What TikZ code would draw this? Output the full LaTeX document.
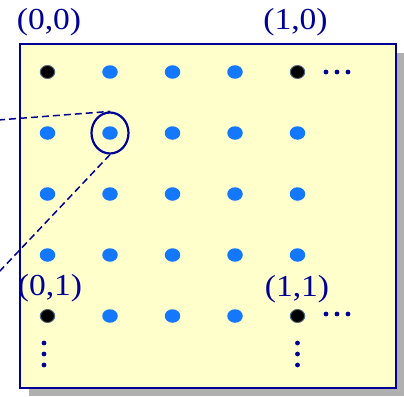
\documentclass[tikz,border=0pt]{standalone}
\usepackage{fontspec}
\setmainfont{Liberation Serif}
\usetikzlibrary{shapes.geometric}
\definecolor{navy}{RGB}{0,0,150}
\definecolor{paleyellow}{RGB}{255,255,204}
\definecolor{dotblue}{RGB}{20,120,255}
\definecolor{shadowgray}{RGB}{176,176,176}
\tikzset{
  bluedot/.style={ellipse,fill=dotblue,inner sep=0pt,minimum width=15.5pt,minimum height=13.5pt},
  blackdot/.style={ellipse,fill=black,draw=black!60,line width=0.8pt,inner sep=0pt,minimum width=14pt,minimum height=13pt},
  lbl/.style={text=navy,font=\fontsize{30.5}{32}\selectfont,inner sep=0pt,xscale=1.1},
  smalldot/.style={circle,fill=navy,inner sep=0pt,minimum size=4.8pt},
  guide/.style={draw=navy,dashed,dash pattern=on 7pt off 4pt,line width=1.5pt},
  lens/.style={ellipse,draw=navy,line width=2.2pt,minimum width=37pt,minimum height=41pt,inner sep=0pt},
}
\begin{document}
\begin{tikzpicture}[x=1pt,y=-1pt]
\useasboundingbox (0,0) rectangle (404,396);
\clip (0,0) rectangle (404,396);
% shadow and frame
\fill[shadowgray] (29,53) rectangle (404,396);
\draw[navy,fill=paleyellow,line width=2.3pt] (20,44) rectangle (396,388);
% grid of dots
\foreach \r/\y in {1/72,2/133,3/194,4/255,5/316}{
  \foreach \c/\x in {1/47.5,2/110,3/172.5,4/235,5/297.5}{
    \node[bluedot] (d\r\c) at (\x,\y) {};
  }
}
\node[blackdot] (k11) at (47.5,72) {};
\node[blackdot] (k15) at (297.5,72) {};
\node[blackdot] (k51) at (47.5,316) {};
\node[blackdot] (k55) at (297.5,316) {};
% ellipsis dots
\foreach \i/\x in {1/326,2/337,3/348}{
  \node[smalldot] (ha\i) at (\x,72) {};
  \node[smalldot] (hb\i) at (\x,314) {};
}
\foreach \i/\y in {1/343,2/354,3/365}{
  \node[smalldot] (va\i) at (44,\y) {};
  \node[smalldot] (vb\i) at (297.5,\y) {};
}
% labels
\node[lbl] (l00) at (49,22.5) {(0,0)};
\node[lbl] (l10) at (295.5,22.5) {(1,0)};
\node[lbl] (l01) at (50,288) {(0,1)};
\node[lbl] (l11) at (297,289) {(1,1)};
% magnifier
\node[lens] (zoom) at (110,133) {};
\coordinate (e1) at (-2,120);
\coordinate (e2) at (-2,273);
\draw[guide] (e1) -- (zoom.north);
\draw[guide] (zoom.south) -- (e2);
\end{tikzpicture}
\end{document}
